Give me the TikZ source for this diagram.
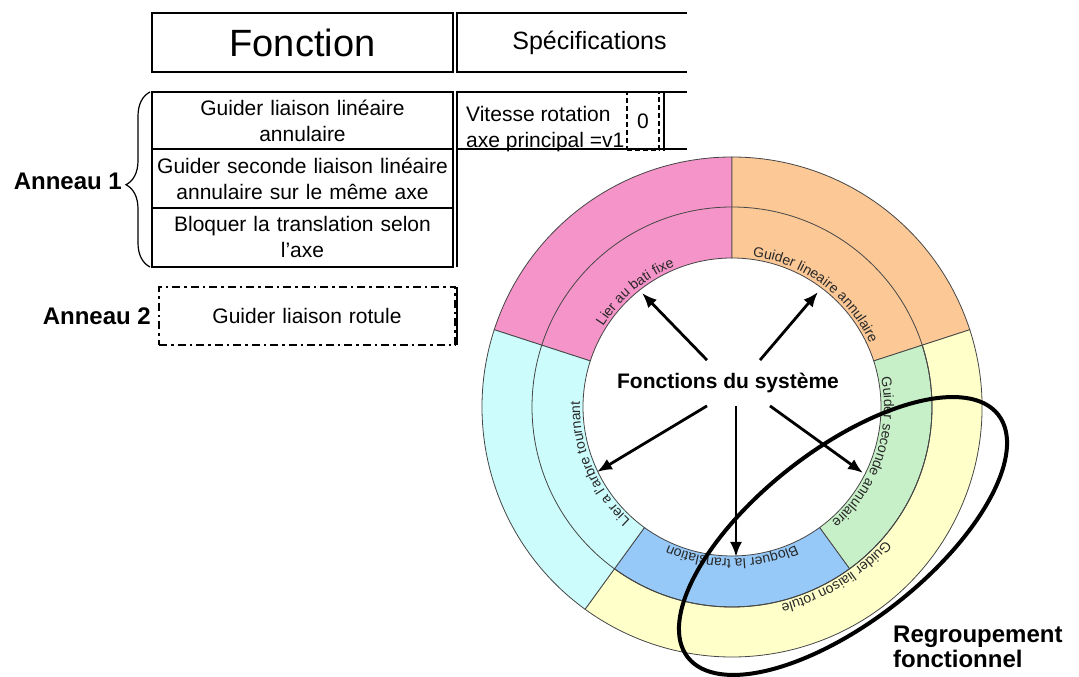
\documentclass[tikz,border=0pt]{standalone}
\usepackage{fontspec}
\setmainfont{Liberation Sans}
\usetikzlibrary{arrows.meta,positioning,shapes.geometric,decorations.text,decorations.pathreplacing}

\definecolor{pinkseg}{RGB}{245,148,200}
\definecolor{orangeseg}{RGB}{251,200,150}
\definecolor{yellowseg}{RGB}{255,255,202}
\definecolor{greenseg}{RGB}{200,240,200}
\definecolor{blueseg}{RGB}{150,200,248}
\definecolor{cyanseg}{RGB}{204,252,252}
\definecolor{segline}{RGB}{70,70,70}
\definecolor{ringtext}{RGB}{40,40,40}
\newcommand{\ringfont}{\fontsize{14}{15}\selectfont\color{ringtext}}

\begin{document}
\begin{tikzpicture}[x=1pt, y=1pt, cell/.style = {rectangle, draw, line width=1.2pt, minimum width=301pt, text width=297pt, align=center, inner sep=0pt, outer sep=0pt, font=\fontsize{21}{26}\selectfont}, anneau/.style = {inner sep=0pt, font=\bfseries\fontsize{24}{25}\selectfont}, sector/.style = {draw=segline, line width=0.8pt}, ringlabel/.style = {decorate, decoration={text along path, text align=center}}, line/.style = {draw, line width=2.8pt, -{Latex[length=15pt,width=12pt]}}]
	\useasboundingbox (0,0) rectangle (1079,677);
	\coordinate (ctr) at (732,270);
	\foreach \a/\b/\ri/\ro/\col in {90/162/149/250/pinkseg, 18/90/149/250/orangeseg, -54/18/149/200/greenseg, -126/-54/149/200/blueseg, -126/18/200/250/yellowseg, 162/234/149/250/cyanseg}
		\filldraw[sector, fill=\col, shift={(ctr)}] (\a:\ri) arc[start angle=\a, end angle=\b, radius=\ri] -- (\b:\ro) arc[start angle=\b, end angle=\a, radius=\ro] -- cycle;
	\draw[sector] (ctr) circle[radius=200];
	
	\path[ringlabel, shift={(ctr)}, decoration={text={|\ringfont|Lier au bati fixe}}] (175:152) arc[start angle=175, end angle=85, radius=152];
	\path[ringlabel, shift={(ctr)}, decoration={text={|\ringfont|Guider lineaire annulaire}}] (98.5:152) arc[start angle=98.5, end angle=8.5, radius=152];
	\path[ringlabel, shift={(ctr)}, decoration={text={|\ringfont|Guider seconde annulaire}}] (26:152) arc[start angle=26, end angle=-64, radius=152];
	\path[ringlabel, shift={(ctr)}, decoration={text={|\ringfont|Bloquer la translation}}] (-45:152) arc[start angle=-45, end angle=-135, radius=152];
	\path[ringlabel, shift={(ctr)}, decoration={text={|\ringfont|Lier a l'arbre tournant}}] (248:152) arc[start angle=248, end angle=158, radius=152];
	\path[ringlabel, shift={(ctr)}, decoration={text={|\ringfont|Guider liaison rotule}}] (-13.5:203) arc[start angle=-13.5, end angle=-103.5, radius=203];
	
	\node[rectangle, draw, line width=1.5pt, minimum width=301pt, minimum height=59pt, font=\fontsize{38}{40}\selectfont] (fonction) at (302.5,634.5) {Fonction};
	\node[font=\fontsize{25}{28}\selectfont] (spec) at (589.5,634.5) {Spécifications};
	\draw[line width=1.5pt] (687,664) -- (457,664) -- (457,605) -- (687,605);
	
	\node[cell, minimum height=57pt] (row1) at (302.5,556.5) {Guider liaison linéaire\\annulaire};
	\node[cell, minimum height=59pt, below=0pt of row1] (row2) {Guider seconde liaison linéaire\\annulaire sur le même axe};
	\node[cell, minimum height=59pt, below=0pt of row2] (row3) {Bloquer la translation selon\\l’axe};
	\node[anchor=west, align=left, inner sep=0pt, font=\fontsize{21}{26}\selectfont] (vitesse) at (466,548.3) {Vitesse rotation\\axe principal =v1};
	\node[draw, dash pattern=on 5pt off 3pt, line width=1.5pt, minimum width=32pt, minimum height=58pt, font=\fontsize{21}{26}\selectfont] (zero) at (643,556) {0};
	\draw[line width=1.2pt] (687,585) -- (457,585) -- (457,410);
	\draw[line width=1.2pt] (457,528) -- (687,528);
	\draw[line width=1.2pt] (664,585) -- (664,526);
	\draw[line width=1.2pt] (457,390) -- (457,332);
	\draw[line width=1.2pt, decorate, decoration={brace, amplitude=24pt, aspect=0.47}] (150,410) -- (150,585);
	\node[anneau, anchor=east] (ann1) at (122,495.5) {Anneau 1};
	
	\node[cell, dash pattern=on 8pt off 4pt on 2.5pt off 4pt, line width=2.6pt, minimum width=296pt, minimum height=58pt, text width=290pt] (row4) at (307,361) {Guider liaison rotule};
	\node[anneau, left=8pt of row4] (ann2) {Anneau 2};
	
	\node[font=\bfseries\fontsize{21}{24}\selectfont] (sys) at (728,294.5) {Fonctions du système};
	\coordinate (t1) at (642,384);
	\coordinate (t2) at (818,385);
	\coordinate (t3) at (597,205);
	\coordinate (t4) at (736,120);
	\coordinate (t5) at (863,204);
	\path[line] ([xshift=-21pt,yshift=9pt]sys.north) -- (t1);
	\path[line] ([xshift=32pt,yshift=9pt]sys.north) -- (t2);
	\path[line] ([xshift=-21pt,yshift=-10pt]sys.south) -- (t3);
	\path[line] ([xshift=8pt,yshift=-10pt]sys.south) -- (t4);
	\path[line] ([xshift=42pt,yshift=-10pt]sys.south) -- (t5);
	
	\node[draw, ellipse, line width=4pt, minimum width=394pt, minimum height=172pt, rotate=38, inner sep=0pt] (regroup) at (843,141) {};
	\node[anneau, anchor=west, align=left] (regtxt) at (893,30) {Regroupement\\fonctionnel};
\end{tikzpicture}
\end{document}
